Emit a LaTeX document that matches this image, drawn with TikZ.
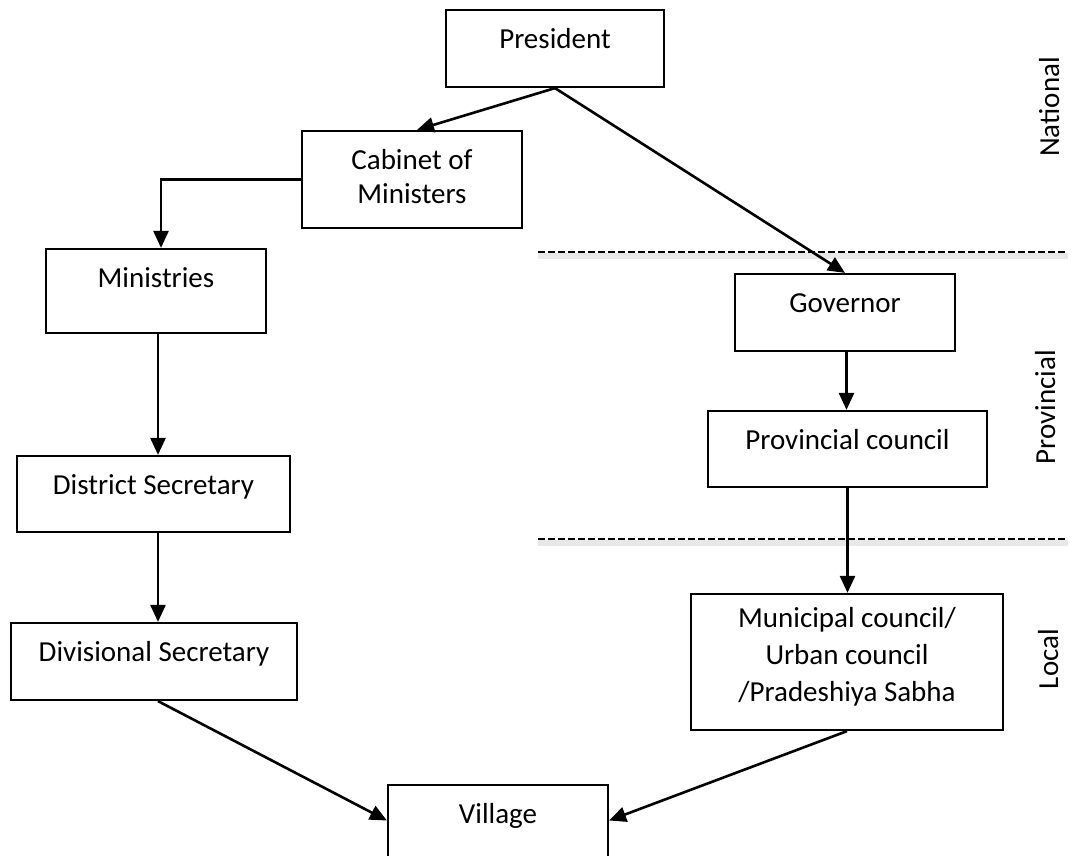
\documentclass[tikz,border=0pt]{standalone}
\usepackage{fontspec}
\setmainfont{Carlito}
\usetikzlibrary{arrows.meta}
\begin{document}
\begin{tikzpicture}[x=1pt,y=-1pt,
  box/.style={draw, line width=2.2pt, rectangle, inner sep=0pt},
  lbl/.style={anchor=base, font=\fontsize{29}{35}\selectfont, inner sep=0pt},
  tier/.style={lbl, rotate=90},
  arr/.style={line width=2.6pt, -{Triangle[length=17pt,width=15pt]}},
  divider/.style={line width=2.4pt, dash pattern=on 7pt off 3pt},
  dividershade/.style={line width=6pt, gray!18}]
\clip (0,0) rectangle (1072,856);
\fill[white] (0,0) rectangle (1072,856);

% tier dividers
\coordinate (d1a) at (538,252);  \coordinate (d1b) at (1068,252);
\coordinate (d2a) at (538,539);  \coordinate (d2b) at (1068,539);
\draw[dividershade] ([yshift=-4pt]d1a) -- ([yshift=-4pt]d1b);
\draw[dividershade] ([yshift=-4pt]d2a) -- ([yshift=-4pt]d2b);
\draw[divider] (d1a) -- (d1b);
\draw[divider] (d2a) -- (d2b);

% boxes
\node[box, minimum width=218pt, minimum height=77pt] (pres) at (555,48.5) {};
\node[box, minimum width=220pt, minimum height=97pt] (cab)  at (412,179.5) {};
\node[box, minimum width=220pt, minimum height=84pt] (min)  at (156,291) {};
\node[box, minimum width=273pt, minimum height=76pt] (dist) at (153.5,494) {};
\node[box, minimum width=286pt, minimum height=77pt] (div)  at (154,661.5) {};
\node[box, minimum width=220pt, minimum height=77pt] (gov)  at (845,312.5) {};
\node[box, minimum width=279pt, minimum height=76pt] (prov) at (847.5,449) {};
\node[box, minimum width=312pt, minimum height=136pt] (muni) at (847,662) {};
\node[box, minimum width=220pt, minimum height=77pt] (vil)  at (498,823.5) {};

% box texts
\node[lbl] (presT) at ([yshift=-40pt]pres.north) {President};
\node[lbl] (cabT1) at ([yshift=-40pt]cab.north) {Cabinet of};
\node[lbl] (cabT2) at ([yshift=-74pt]cab.north) {Ministers};
\node[lbl] (minT)  at ([yshift=-40pt]min.north) {Ministries};
\node[lbl] (distT) at ([yshift=-40pt]dist.north) {District Secretary};
\node[lbl] (divT)  at ([yshift=-40pt]div.north) {Divisional Secretary};
\node[lbl] (govT)  at ([yshift=-40pt]gov.north) {Governor};
\node[lbl] (provT) at ([yshift=-40pt]prov.north) {Provincial council};
\node[lbl] (muniT1) at ([yshift=-35pt]muni.north) {Municipal council/};
\node[lbl] (muniT2) at ([yshift=-72pt]muni.north) {Urban council};
\node[lbl] (muniT3) at ([yshift=-109pt]muni.north) {/Pradeshiya Sabha};
\node[lbl] (vilT)  at ([yshift=-40pt]vil.north) {Village};

% tier labels
\node[tier] (national)   at (1059,107) {National};
\node[tier] (provincial) at (1055,407) {Provincial};
\node[tier] (local)      at (1058,659) {Local};

% connectors
\draw[arr] (pres.south) -- ([xshift=5pt]cab.north);
\draw[arr] (pres.south) -- (gov.north);
\draw[arr] (cab.west) -| ([xshift=5pt]min.north);
\draw[arr] ([xshift=2pt]min.south) -- ([xshift=4.5pt]dist.north);
\draw[arr] ([xshift=4.5pt]dist.south) -- ([xshift=4pt]div.north);
\draw[arr] ([xshift=1.5pt]gov.south) -- ([xshift=1.5pt]gov.south |- prov.north);
\draw[arr] (prov.south) -- (prov.south |- muni.north);
\draw[arr] ([xshift=4pt]div.south) -- ([yshift=3pt]vil.west);
\draw[arr] (muni.south) -- ([yshift=3pt]vil.east);
\end{tikzpicture}
\end{document}
